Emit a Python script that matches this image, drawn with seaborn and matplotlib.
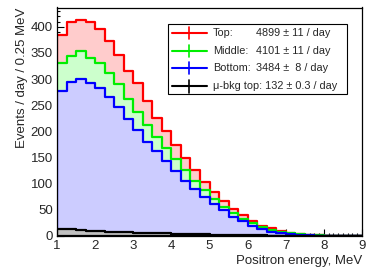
import numpy as np
import pandas as pd
import matplotlib
matplotlib.use("Agg")
import matplotlib.pyplot as plt
import seaborn as sns
from matplotlib.patches import Rectangle
from matplotlib.lines import Line2D
from matplotlib.ticker import MultipleLocator

# bin edges: 0.25 MeV bins from 1 to 9 MeV
edges = np.arange(1.0, 9.0001, 0.25)
centers = edges[:-1] + 0.125

# events / day / 0.25 MeV
top = [385, 410, 413, 410, 395, 372, 347, 315, 292, 258, 225, 200, 174, 149, 126, 104,
       85, 66, 52, 40, 28, 20, 15, 10, 6, 3, 2, 1, 0.5, 0.3, 0.2, 0.1]
middle = [330, 345, 353, 341, 330, 311, 290, 262, 238, 212, 189, 168, 147, 126, 106, 88,
          70, 55, 44, 33, 24, 17, 12, 8, 5, 3, 2, 1, 0.5, 0.3, 0.2, 0.1]
bottom = [277, 295, 300, 292, 283, 265, 247, 223, 203, 180, 162, 143, 124, 106, 89, 74,
          62, 50, 37, 29, 20, 13, 8, 6, 3, 2, 1, 0.5, 0.3, 0.2, 0.1, 0.1]
mubkg = [14, 12.5, 11, 10, 9, 8, 7.5, 7, 6.5, 6, 5.5, 5, 4.5, 4, 3.5, 3,
         2.5, 2.2, 1.9, 1.6, 1.3, 1.1, 0.9, 0.7, 0.5, 0.4, 0.3, 0.2, 0.1, 0.1, 0.1, 0.1]

labels = ["Top:", "Middle:", "Bottom:"]
numbers = ["4899 \u00b1 11 / day", "4101 \u00b1 11 / day", "3484 \u00b1  8 / day"]
bkg_label = "\u03bc-bkg top: 132 \u00b1 0.3 / day"

sns.set_theme(style="ticks")
plt.rcParams['font.family'] = ['Liberation Sans', 'DejaVu Sans']

fig = plt.figure(figsize=(3.74, 2.68), dpi=100)
ax = fig.add_axes([57/374, 32/268, 305/374, 228.5/268])

series = [(top, "#ff0000", "#ffcccc"),
          (middle, "#00ee00", "#ccffcc"),
          (bottom, "#0000ff", "#ccccff"),
          (mubkg, "#000000", "#c0c0c0")]

for vals, ec, fc in series:
    df = pd.DataFrame({"E": centers, "w": vals})
    sns.histplot(data=df, x="E", weights="w", binwidth=0.25, binrange=(1, 9),
                 element="step", fill=True,
                 facecolor=fc, edgecolor=ec, alpha=1, linewidth=1.6, ax=ax)

ax.set_xlim(1, 9)
ax.set_ylim(0, 437)
ax.xaxis.set_major_locator(MultipleLocator(1))
ax.xaxis.set_minor_locator(MultipleLocator(0.125))
ax.yaxis.set_major_locator(MultipleLocator(50))
ax.yaxis.set_minor_locator(MultipleLocator(10))
ax.tick_params(which="both", direction="in", top=False, right=False, labelsize=9.5,
               color="black", width=0.8)
ax.tick_params(which="major", length=5, pad=3)
ax.tick_params(which="minor", length=2.5)
for s in ax.spines.values():
    s.set_color("black")
    s.set_linewidth(0.9)

ax.set_xlabel("Positron energy, MeV", fontsize=9.5, loc="right", labelpad=2)
ax.set_ylabel("Events / day / 0.25 MeV", fontsize=9.5, loc="top", labelpad=2)

# legend box, drawn by hand to keep the number column aligned
tr = ax.transAxes
ax.add_patch(Rectangle((0.364, 0.620), 0.587, 0.308, transform=tr, facecolor="white",
                       edgecolor="black", linewidth=0.8, zorder=5))
rows_y = [0.888, 0.810, 0.735, 0.656]
cols = ["#ff0000", "#00ee00", "#0000ff", "#000000"]
texts = labels + [bkg_label]
for i, (yy, c) in enumerate(zip(rows_y, cols)):
    ax.add_line(Line2D([0.377, 0.492], [yy, yy], transform=tr, color=c, lw=1.5, zorder=6))
    ax.add_line(Line2D([0.434, 0.434], [yy - 0.028, yy + 0.028], transform=tr, color=c,
                       lw=1.2, zorder=6))
    ax.text(0.511, yy, texts[i], transform=tr, fontsize=7.8, va="center", ha="left", zorder=7)
    if i < 3:
        ax.text(0.652, yy, numbers[i], transform=tr, fontsize=7.8, va="center", ha="left",
                zorder=7)

fig.savefig("out.png", dpi=100)
